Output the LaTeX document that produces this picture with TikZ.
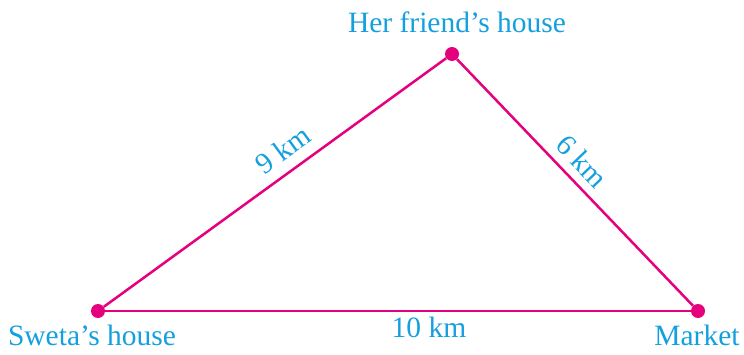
\documentclass[tikz,border=0pt]{standalone}
\usepackage{fontspec}
\setmainfont{Liberation Serif}
\definecolor{routepink}{RGB}{229,0,126}
\definecolor{labelblue}{RGB}{20,160,222}
\begin{document}
\begin{tikzpicture}[x=1pt, y=1pt, every node/.style={font=\fontsize{29.5}{34}\selectfont, text=labelblue}]
  \useasboundingbox (0,0) rectangle (744,354);
  \tikzset{place/.style={circle, fill=routepink, inner sep=0pt, minimum size=14pt}}
  \node[place] (sweta) at (98,43) {};
  \node[place] (friend) at (452,300) {};
  \node[place] (market) at (698,43) {};
  \node[anchor=base] (swetalabel) at (92,9) {Sweta’s house};
  \node[anchor=base] (friendlabel) at (457,321) {Her friend’s house};
  \node[anchor=base] (marketlabel) at (697,9) {Market};
  \draw[routepink, line width=2.5pt] (sweta) -- node[pos=0.56, sloped, above=7pt] (nine) {9 km} (friend);
  \draw[routepink, line width=2.5pt] (friend) -- node[pos=0.47, sloped, above=5pt] (six) {6 km} (market);
  \draw[routepink, line width=2.5pt] (sweta) -- (market);
  \node[anchor=base] (ten) at (429,17) {10 km};
\end{tikzpicture}
\end{document}
